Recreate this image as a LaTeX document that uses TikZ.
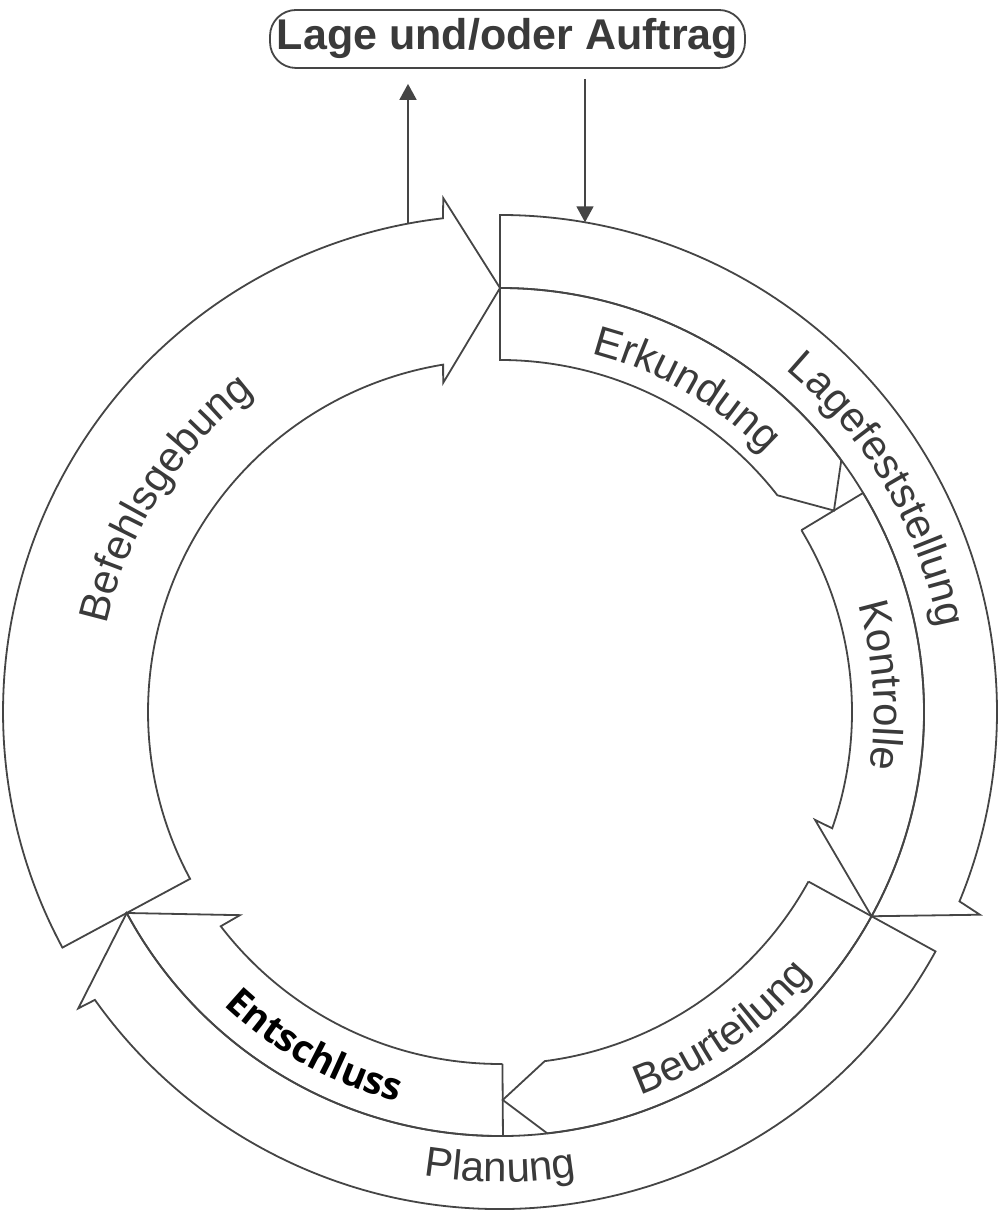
\documentclass[tikz,border=0pt]{standalone}
\usepackage{fontspec}
\setmainfont{Liberation Sans}
\newfontfamily\entfont{Open Sans}
\usetikzlibrary{calc,arrows.meta,decorations.text}
\definecolor{ln}{HTML}{454545}
\definecolor{tx}{HTML}{3A3A3A}
\newcommand{\lblf}{\fontsize{21pt}{24pt}\selectfont}
\newcommand{\entf}{\entfont\bfseries\fontsize{19pt}{22pt}\selectfont}
\begin{document}
\begin{tikzpicture}[x=0.5pt,y=0.5pt,
  band/.style={draw=ln, line width=0.9pt, line join=miter},
  conn/.style={draw=ln, line width=0.9pt, -{Triangle[length=8pt,width=8.5pt]}},
  lbl/.style={decorate, decoration={text along path, text align=center, text color=tx, text={#1}}},
  lblk/.style={decorate, decoration={text along path, text align=center, text color=black, text={#1}}}]
\useasboundingbox (0,0) rectangle (1004,1218);
\coordinate (O) at (500,506);
\def\ra{176pt}\def\rb{212pt}\def\rc{248.5pt}
% Befehlsgebung
\path[band] ($(O)+(208.3:\ra)$) -- ($(O)+(208.3:\rc)$) arc[start angle=208.3,end angle=96.6,radius=\rc]
  -- ($(O)+(96.3:258.5pt)$) -- ($(O)+(90:\rb)$) -- ($(O)+(99.8:167pt)$) -- ($(O)+(99.3:\ra)$)
  arc[start angle=99.3,end angle=208.3,radius=\ra] -- cycle;
% Lagefeststellung
\path[band] ($(O)+(90:\ra)$) -- ($(O)+(90:\rc)$) arc[start angle=90,end angle=-22.4,radius=\rc]
  -- ($(O)+(-22.9:260.5pt)$) -- ($(O)+(-28.8:\rb)$) arc[start angle=-28.8,end angle=90,radius=\rb];
% Erkundung
\path[band] ($(O)+(90:\rb)$) arc[start angle=90,end angle=36.4,radius=\rb]
  -- ($(O)+(31.1:195pt)$) -- ($(O)+(38:\ra)$) arc[start angle=38,end angle=90,radius=\ra] -- cycle;
% Kontrolle
\path[band] ($(O)+(31.1:\ra)$) -- ($(O)+(31.1:\rb)$) arc[start angle=31.1,end angle=-28.8,radius=\rb]
  -- ($(O)+(-18.9:166.5pt)$) -- ($(O)+(-19.3:\ra)$) arc[start angle=-19.3,end angle=31.1,radius=\ra];
% Planung
\path[band] ($(O)+(-28.8:\ra)$) -- ($(O)+(-28.8:\rc)$) arc[start angle=-28.8,end angle=-144.6,radius=\rc]
  -- ($(O)+(-144.9:257.75pt)$) -- ($(O)+(-151.7:\rb)$) arc[start angle=-151.7,end angle=-28.8,radius=\rb];
% Beurteilung
\path[band] ($(O)+(-28.8:\rb)$) arc[start angle=-28.8,end angle=-83.6,radius=\rb]
  -- ($(O)+(-89.6:194pt)$) -- ($(O)+(-82.7:\ra)$) arc[start angle=-82.7,end angle=-28.8,radius=\ra];
% Entschluss
\path[band] ($(O)+(-89.6:\ra)$) -- ($(O)+(-89.6:\rb)$) arc[start angle=-89.6,end angle=-151.7,radius=\rb]
  -- ($(O)+(-142:165pt)$) -- ($(O)+(-142.5:\ra)$) arc[start angle=-142.5,end angle=-89.6,radius=\ra];
% box and connectors
\node[draw=ln, line width=0.9pt, rounded corners=13pt, minimum width=237.5pt, minimum height=29pt,
  inner sep=0pt, text=tx, font=\bfseries\fontsize{21.5pt}{24pt}\selectfont] (box) at (507.5,1179) {Lage und/oder Auftrag};
\coordinate (bu) at (408,994);
\coordinate (ld) at (585,995.7);
\draw[conn, shorten >=7.5pt] (bu) -- (bu |- box.south);
\draw[conn, shorten <=5pt] (ld |- box.south) -- (ld);
% labels
\path[lbl={|\lblf|Befehlsgebung}] ($(O)+(187.5:201.5pt)$) arc[start angle=187.5,end angle=107.5,radius=201.5pt];
\path[lbl={|\lblf|Lagefeststellung}] ($(O)+(75:223pt)$) arc[start angle=75,end angle=-14,radius=223pt];
\path[lbl={|\lblf|Erkundung}] ($(O)+(100:185pt)$) arc[start angle=100,end angle=20,radius=185pt];
\path[lbl={|\lblf|Kontrolle}] ($(O)+(44:187pt)$) arc[start angle=44,end angle=-36,radius=187pt];
\path[lbl={|\lblf|Beurteilung}] ($(O)+(-95:204pt)$) arc[start angle=-95,end angle=-15,radius=204pt];
\path[lbl={|\lblf|Planung}] ($(O)+(-130:235pt)$) arc[start angle=-130,end angle=-50,radius=235pt];
\path[lblk={|\entf|Entschluss}] ($(O)+(201:201.5pt)$) arc[start angle=201,end angle=281,radius=201.5pt];
\end{tikzpicture}
\end{document}
